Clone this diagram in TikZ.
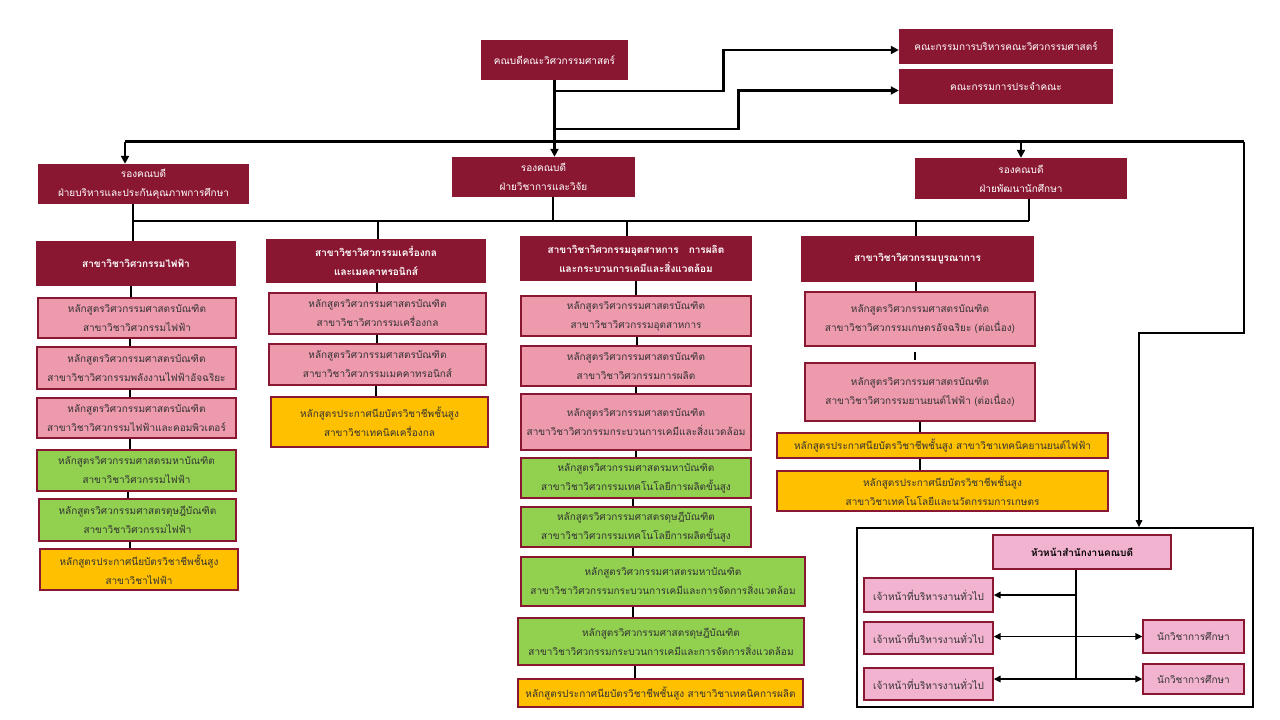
\documentclass[tikz,border=0pt]{standalone}
\usepackage{fontspec}
\newfontfamily\thai[Script=Thai]{Loma}
\usetikzlibrary{arrows.meta}
\definecolor{maroon}{HTML}{8A1732}
\definecolor{pinkc}{HTML}{EE9AAD}
\definecolor{greenc}{HTML}{92D050}
\definecolor{yellowc}{HTML}{FFC000}
\definecolor{lpink}{HTML}{F2B3D0}
\definecolor{txt}{HTML}{333333}
\newcommand\bx[7]{\node[#1, minimum width={#5pt-#3pt}, minimum height={#6pt-#4pt}] (#2) at ({(#3+#5)/2},{(#4+#6)/2}) {#7};}
\tikzset{
  base/.style={rectangle, inner sep=1pt, align=center, font=\thai\fontsize{10}{19}\selectfont},
  mbox/.style={base, fill=maroon, text=white},
  mbold/.style={mbox, font=\thai\bfseries\fontsize{10}{19}\selectfont},
  pbox/.style={base, fill=pinkc, draw=maroon, line width=1.5pt, text=txt},
  gbox/.style={base, fill=greenc, draw=maroon, line width=1.5pt, text=txt},
  ybox/.style={base, fill=yellowc, draw=maroon, line width=1.5pt, text=txt},
  lbox/.style={base, fill=lpink, draw=maroon, line width=1.3pt, text=txt},
  hbox/.style={lbox, text=black, font=\thai\bfseries\fontsize{10}{19}\selectfont},
  conn/.style={line width=2.4pt, black},
  cconn/.style={line width=2pt, black},
  tconn/.style={line width=1.5pt, black},
  tip/.tip={Triangle[length=8pt,width=8pt]},
  stip/.tip={Triangle[length=7pt,width=6.5pt]},
}
\begin{document}
\begin{tikzpicture}[x=1pt,y=-1pt]
\useasboundingbox[fill=white] (0,0) rectangle (1280,720);
% top level
\bx{mbox}{D}{481}{40}{628}{80}{คณบดีคณะวิศวกรรมศาสตร์}
\bx{mbox}{C1}{899}{29}{1113}{64}{คณะกรรมการบริหารคณะวิศวกรรมศาสตร์}
\bx{mbox}{C2}{899}{69}{1113}{104}{คณะกรรมการประจำคณะ}
\bx{mbox}{VPl}{38}{164}{249}{204}{รองคณบดี\\ฝ่ายบริหารและประกันคุณภาพการศึกษา}
\bx{mbox}{VPm}{452}{157}{635}{197}{รองคณบดี\\ฝ่ายวิชาการและวิจัย}
\bx{mbox}{VPr}{915}{158}{1127}{199}{รองคณบดี\\ฝ่ายพัฒนานักศึกษา}
% branches
\bx{mbold}{B1}{36}{241}{236}{286}{สาขาวิชาวิศวกรรมไฟฟ้า}
\bx{mbold}{B2}{266}{239}{486}{283}{สาขาวิชาวิศวกรรมเครื่องกล\\และเมคคาทรอนิกส์}
\bx{mbold}{B3}{520}{236}{752}{281}{สาขาวิชาวิศวกรรมอุตสาหการ\ \ \ การผลิต\\และกระบวนการเคมีและสิ่งแวดล้อม}
\bx{mbold}{B4}{801}{236}{1034}{282}{สาขาวิชาวิศวกรรมบูรณาการ}
% column 1
\bx{pbox}{P1}{38}{298}{236}{338}{หลักสูตรวิศวกรรมศาสตรบัณฑิต\\สาขาวิชาวิศวกรรมไฟฟ้า}
\bx{pbox}{P2}{37}{347}{236}{389}{หลักสูตรวิศวกรรมศาสตรบัณฑิต\\สาขาวิชาวิศวกรรมพลังงานไฟฟ้าอัจฉริยะ}
\bx{pbox}{P3}{37}{398}{236}{438}{หลักสูตรวิศวกรรมศาสตรบัณฑิต\\สาขาวิชาวิศวกรรมไฟฟ้าและคอมพิวเตอร์}
\bx{gbox}{G1}{37}{450}{236}{491}{หลักสูตรวิศวกรรมศาสตรมหาบัณฑิต\\สาขาวิชาวิศวกรรมไฟฟ้า}
\bx{gbox}{G2}{39}{499}{236}{541}{หลักสูตรวิศวกรรมศาสตรดุษฎีบัณฑิต\\สาขาวิชาวิศวกรรมไฟฟ้า}
\bx{ybox}{Y1}{40}{549}{238}{590}{หลักสูตรประกาศนียบัตรวิชาชีพชั้นสูง\\สาขาวิชาไฟฟ้า}
% column 2
\bx{pbox}{Q1}{269}{293}{486}{334}{หลักสูตรวิศวกรรมศาสตรบัณฑิต\\สาขาวิชาวิศวกรรมเครื่องกล}
\bx{pbox}{Q2}{269}{344}{486}{385}{หลักสูตรวิศวกรรมศาสตรบัณฑิต\\สาขาวิชาวิศวกรรมเมคคาทรอนิกส์}
\bx{ybox}{Q3}{271}{397}{488}{447}{หลักสูตรประกาศนียบัตรวิชาชีพชั้นสูง\\สาขาวิชาเทคนิคเครื่องกล}
% column 3
\bx{pbox}{R1}{521}{296}{751}{336}{หลักสูตรวิศวกรรมศาสตรบัณฑิต\\สาขาวิชาวิศวกรรมอุตสาหการ}
\bx{pbox}{R2}{521}{346}{751}{386}{หลักสูตรวิศวกรรมศาสตรบัณฑิต\\สาขาวิชาวิศวกรรมการผลิต}
\bx{pbox}{R3}{521}{394}{751}{450}{หลักสูตรวิศวกรรมศาสตรบัณฑิต\\สาขาวิชาวิศวกรรมกระบวนการเคมีและสิ่งแวดล้อม}
\bx{gbox}{R4}{521}{458}{751}{498}{หลักสูตรวิศวกรรมศาสตรมหาบัณฑิต\\สาขาวิชาวิศวกรรมเทคโนโลยีการผลิตขั้นสูง}
\bx{gbox}{R5}{521}{507}{751}{547}{หลักสูตรวิศวกรรมศาสตรดุษฎีบัณฑิต\\สาขาวิชาวิศวกรรมเทคโนโลยีการผลิตขั้นสูง}
\bx{gbox}{R6}{521}{557}{805}{606}{หลักสูตรวิศวกรรมศาสตรมหาบัณฑิต\\สาขาวิชาวิศวกรรมกระบวนการเคมีและการจัดการสิ่งแวดล้อม}
\bx{gbox}{R7}{518}{618}{804}{665}{หลักสูตรวิศวกรรมศาสตรดุษฎีบัณฑิต\\สาขาวิชาวิศวกรรมกระบวนการเคมีและการจัดการสิ่งแวดล้อม}
\bx{ybox}{R8}{518}{679}{803}{707}{หลักสูตรประกาศนียบัตรวิชาชีพชั้นสูง สาขาวิชาเทคนิคการผลิต}
% column 4
\bx{pbox}{S1}{805}{292}{1035}{346}{หลักสูตรวิศวกรรมศาสตรบัณฑิต\\สาขาวิชาวิศวกรรมเกษตรอัจฉริยะ (ต่อเนื่อง)}
\bx{pbox}{S2}{805}{363}{1035}{421}{หลักสูตรวิศวกรรมศาสตรบัณฑิต\\สาขาวิชาวิศวกรรมยานยนต์ไฟฟ้า (ต่อเนื่อง)}
\bx{ybox}{S3}{777}{433}{1108}{458}{หลักสูตรประกาศนียบัตรวิชาชีพชั้นสูง สาขาวิชาเทคนิคยานยนต์ไฟฟ้า}
\bx{ybox}{S4}{777}{471}{1108}{511}{หลักสูตรประกาศนียบัตรวิชาชีพชั้นสูง\\สาขาวิชาเทคโนโลยีและนวัตกรรมการเกษตร}
% office
\node[draw=black, line width=1.6pt, minimum width=396pt, minimum height=179pt, inner sep=0pt] (OB) at (1055,617.5) {};
\bx{hbox}{H}{993}{535}{1171}{569}{หัวหน้าสำนักงานคณบดี}
\bx{lbox}{L1}{864}{578}{993}{612}{เจ้าหน้าที่บริหารงานทั่วไป}
\bx{lbox}{L2}{864}{622}{993}{654}{เจ้าหน้าที่บริหารงานทั่วไป}
\bx{lbox}{L3}{864}{668}{993}{700}{เจ้าหน้าที่บริหารงานทั่วไป}
\bx{lbox}{E1}{1143}{620}{1244}{653}{นักวิชาการศึกษา}
\bx{lbox}{E2}{1143}{664}{1244}{694}{นักวิชาการศึกษา}
% connectors: dean
\draw[conn,-tip] (D.south) -- (D.south |- VPm.north);
\draw[conn,-tip] (D.south) ++(0,11) -- ++(169,0) |- ([yshift=-3.5pt]C1.west);
\draw[conn,-tip] (D.south) ++(0,49) -- ++(184,0) |- ([yshift=-4pt]C2.west);
\coordinate (hL) at (125,141.5);
\coordinate (hR) at (1244,141.5);
\draw[conn] (hL) -- (hR);
\draw[conn,-tip] (hL) -- (hL |- VPl.north);
\draw[conn,-tip] (VPr.north |- hL) -- (VPr.north);
\coordinate (t) at (1139,333);
\draw[tconn,-stip] (hR) |- (t) -- (t |- OB.north);
% VP to branches
\draw[conn] (133,0 |- VPl.south) -- (133,0 |- B1.north);
\draw[conn] (133,221) -- (1029,221);
\draw[conn] (553,0 |- VPm.south) -- (553,221);
\draw[conn] (1029,0 |- VPr.south) -- (1029,221);
\draw[conn] (378,221) -- (378,0 |- B2.north);
\draw[conn] (627,221) -- (627,0 |- B3.north);
\draw[conn] (916,221) -- (916,0 |- B4.north);
% columns
\foreach \a/\b/\x in {B1/P1/131, P1/P2/130, P2/P3/130, P3/G1/130, G1/G2/128, G2/Y1/130,
  B2/Q1/377, Q1/Q2/377, Q2/Q3/376,
  B3/R1/636, R1/R2/637, R2/R3/636, R3/R4/636, R4/R5/633, R5/R6/633, R6/R7/633, R7/R8/635,
  B4/S1/916, S2/S3/920, S3/S4/920}
  \draw[cconn] (\x,0 |- \a.south) -- (\x,0 |- \b.north);
\coordinate (gap) at (915,352);
\draw[cconn] (gap) -- ++(0,8);
% office connectors
\coordinate (v) at (1076,679);
\draw[tconn] (v |- H.south) -- (v);
\draw[tconn,-stip] (L1.east -| v) -- (L1.east);
\draw[tconn,stip-stip] (L2.east |- E1.west) -- (E1.west);
\draw[tconn,stip-stip] (L3.east |- E2.west) -- (E2.west);
\end{tikzpicture}
\end{document}
